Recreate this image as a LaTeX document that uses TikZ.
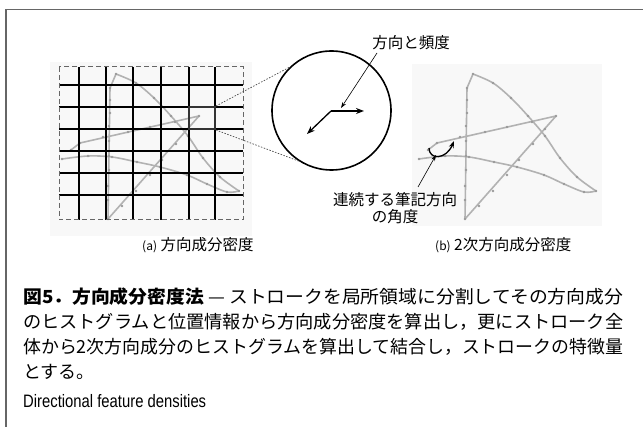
\documentclass[tikz,border=0pt]{standalone}
\usepackage{fontspec}
\usepackage{graphicx}
\usetikzlibrary{arrows.meta}
\setmainfont{Noto Sans CJK JP}
\newfontfamily\latinsans{Liberation Sans}
\definecolor{strokegray}{HTML}{B2B2B2}
\definecolor{dotgray}{HTML}{9A9A9A}
\definecolor{framegray}{HTML}{666666}
\definecolor{bggray}{HTML}{F8F8F8}
\newcommand\penstroke{%
  \draw[pen] plot[smooth,tension=0.55] coordinates {(62,159) (88,156) (112,157) (137,162) (160,167) (187,175) (207,184) (227,192) (239,191)};
  \draw[pen] plot[smooth,tension=0.55] coordinates {(239,191) (220,177) (203,158) (188,136) (171,116) (154,98) (136,83) (116,74)};
  \draw[pen] (116,74) -- (110,88) -- (108,219) -- (199,116) -- (80,143) -- (71,150);
  \foreach \p in {(62,159),(88,156),(112,157),(137,162),(160,167),(187,175),(207,184),(227,192),(239,191),
                  (220,177),(203,158),(188,136),(171,116),(154,98),(136,83),(116,74),
                  (110,88),(110,100),(110,113),(109,126),(109,141),(109,156),(109,170),(108,186),(108,200),(108,219),
                  (122,206),(136,191),(150,175),(162,160),(176,144),(188,129),(199,116),
                  (175,122),(150,127),(128,132),(103,137),(80,143),(71,150)}
    \fill[dotgray] \p circle[radius=1.3pt];
}
\begin{document}
\begin{tikzpicture}[x=1pt,y=-1pt,
  pen/.style={strokegray, line width=1.6pt, line join=round, line cap=round},
  gridline/.style={black, line width=1.2pt},
  gridedge/.style={draw=black!60, line width=1pt, dash pattern=on 5pt off 3pt},
  dotline/.style={black!70, line width=0.7pt, dash pattern=on 1.5pt off 1.5pt},
  arrowthick/.style={-{Stealth[length=8pt,width=6pt]}, line width=1.3pt},
  arrowthin/.style={-{Stealth[length=6pt,width=4pt]}, line width=0.6pt},
  arrowmed/.style={-{Stealth[length=7pt,width=5pt]}, line width=1.3pt},
  lbl/.style={font=\fontsize{15.5}{17}\selectfont, inner sep=0pt},
  captext/.style={font=\fontsize{18}{20}\selectfont, inner sep=0pt, anchor=base west}]
\useasboundingbox (0,0) rectangle (643,427);
% frame
\draw[framegray, line width=1.3pt] (643,9.5) -- (6,9.5) -- (6,427);
% faint panel backgrounds
\fill[bggray] (50,62) rectangle (252,236);
\fill[bggray] (412,64) rectangle (602,226);
% strokes
\penstroke
\begin{scope}[xshift=357pt]
\penstroke
\end{scope}
% grid
\foreach \x in {79,106,133,161,189,215} \draw[gridline] (\x,67) -- (\x,220);
\foreach \y in {85,107,129,151,173,195} \draw[gridline] (59,\y) -- (243,\y);
\draw[gridedge] (59,67) rectangle (243,220);
\node[draw=black!80, line width=2pt, minimum width=26pt, minimum height=22pt, inner sep=0pt] (cell) at (202,118) {};
% zoom circle
\node[circle, draw, line width=1.6pt, minimum size=119pt, inner sep=0pt] (zoom) at (331.5,110.5) {};
\draw[dotline] (cell.north east) -- (zoom.134);
\draw[dotline] (cell.south east) -- (zoom.237);
\coordinate (c0) at (331,111);
\coordinate (c1) at (364,111);
\coordinate (c2) at (307,134);
\draw[arrowthick] (c0) -- (c1);
\draw[arrowthick] (c0) -- (c2);
\node[lbl] (freq) at (411,43) {方向と頻度};
\coordinate (f0) at (377,53);
\coordinate (f1) at (341,108);
\draw[arrowthin] (f0) -- (f1);
% right panel annotation
\coordinate (h0) at (429,148);
\coordinate (h1) at (454,141);
\draw[arrowmed] (h0) .. controls (429,160) and (446,160) .. (h1);
\node[lbl, align=center] (angle) at (395,208.5) {連続する筆記方向\\の角度};
\coordinate (a0) at (418,187);
\coordinate (a1) at (436,155);
\draw[arrowthin] (a0) -- (a1);
% sub captions
\node[lbl, anchor=west] (capa) at (142,245) {{\fontsize{12}{12}\selectfont (a)} 方向成分密度};
\node[lbl, anchor=west] (capb) at (435,245) {{\fontsize{12}{12}\selectfont (b)} 2次方向成分密度};
% caption
\node[captext] (cap1) at (23,304) {\resizebox{600pt}{\height}{{\bfseries 図5．方向成分密度法} — ストロークを局所領域に分割してその方向成分}};
\node[captext] (cap2) at (23,329) {\resizebox{600pt}{\height}{のヒストグラムと位置情報から方向成分密度を算出し，更にストローク全}};
\node[captext] (cap3) at (23,354) {\resizebox{600pt}{\height}{体から2次方向成分のヒストグラムを算出して結合し，ストロークの特徴量}};
\node[captext] (cap4) at (23,379) {とする。};
\node[inner sep=0pt, anchor=base west, font=\latinsans\fontsize{18}{20}\selectfont] (en) at (23,408) {\resizebox{183pt}{\height}{Directional feature densities}};
\end{tikzpicture}
\end{document}
